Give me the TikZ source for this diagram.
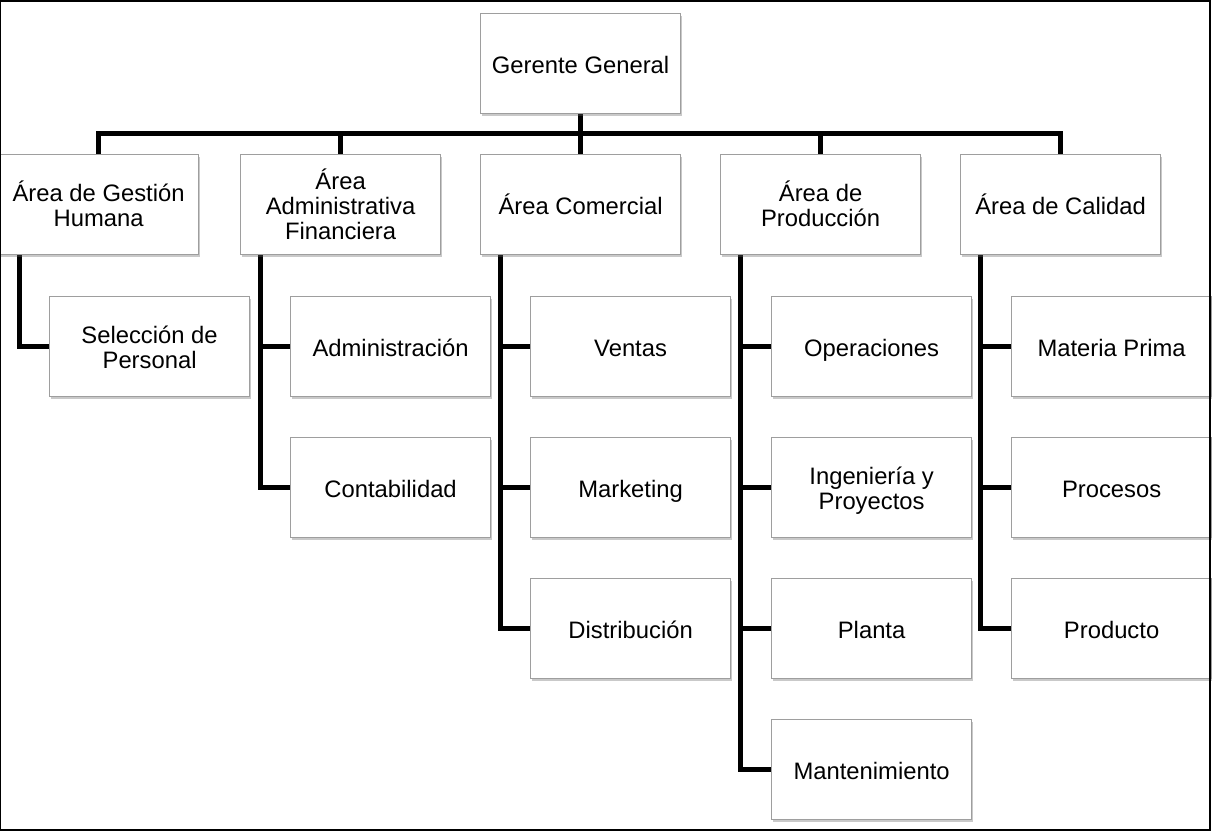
\documentclass[tikz,border=0pt]{standalone}
\usepackage{fontspec}
\setmainfont{Liberation Sans}
\usetikzlibrary{shadows}
\pgfdeclarelayer{bg}
\pgfsetlayers{bg,main}
\newcommand\sm[1]{\rule{0pt}{21pt}\smash{#1}\rule[-2pt]{0pt}{2pt}}
\begin{document}
\begin{tikzpicture}[x=1pt,y=-1pt,
  box/.style={draw=black!38, line width=1.2pt, fill=white, minimum width=200pt, minimum height=100pt,
    inner sep=0pt, anchor=north west, align=center,
    font=\fontsize{23.8}{25}\selectfont,
    drop shadow={shadow xshift=1pt, shadow yshift=-2.5pt, opacity=0.35, fill=black!60}},
  conn/.style={line width=5pt, line cap=butt}]
\useasboundingbox (0,0) rectangle (1212,832);

\coordinate (busL) at (98,134);
\coordinate (busR) at (1060,134);

\node[box] (gg) at (480,13) {\sm{Gerente General}};

\node[box] (a1) at (-2,154) {\sm{Área de Gestión}\\\sm{Humana}};
\node[box] (a2) at (240,154) {\sm{Área}\\\sm{Administrativa}\\\sm{Financiera}};
\node[box] (a3) at (480,154) {\sm{Área Comercial}};
\node[box] (a4) at (720,154) {\sm{Área de}\\\sm{Producción}};
\node[box] (a5) at (960,154) {\sm{Área de Calidad}};

\node[box] (b11) at (49,296) {\sm{Selección de}\\\sm{Personal}};

\node[box] (b21) at (290,296) {\sm{Administración}};
\node[box] (b22) at (290,437) {\sm{Contabilidad}};

\node[box] (b31) at (530,296) {\sm{Ventas}};
\node[box] (b32) at (530,437) {\sm{Marketing}};
\node[box] (b33) at (530,578) {\sm{Distribución}};

\node[box] (b41) at (771,296) {\sm{Operaciones}};
\node[box] (b42) at (771,437) {\sm{Ingeniería y}\\\sm{Proyectos}};
\node[box] (b43) at (771,578) {\sm{Planta}};
\node[box] (b44) at (771,719) {\sm{Mantenimiento}};

\node[box] (b51) at (1011,296) {\sm{Materia Prima}};
\node[box] (b52) at (1011,437) {\sm{Procesos}};
\node[box] (b53) at (1011,578) {\sm{Producto}};

\begin{pgfonlayer}{bg}
\fill[white] (0,0) rectangle (1212,832);
% top bus
\draw[conn] (gg.south) -- (a3.north);
\draw[conn, line cap=rect] (busL) -- (busR);
\foreach \n in {a1,a2,a4,a5}{
  \draw[conn] (\n.north |- busL) -- (\n.north);
}
% child connectors
\draw[conn, line cap=rect] ([xshift=21pt]a1.south west) |- (b11.west);
\draw[conn] ([xshift=20pt]a2.south west) |- (b22.west);
\draw[conn] ([xshift=20pt]a2.south west |- b21.west) -- (b21.west);
\draw[conn] ([xshift=20pt]a3.south west) |- (b33.west);
\draw[conn] ([xshift=20pt]a3.south west |- b31.west) -- (b31.west);
\draw[conn] ([xshift=20pt]a3.south west |- b32.west) -- (b32.west);
\draw[conn] ([xshift=20pt]a4.south west) |- (b44.west);
\draw[conn] ([xshift=20pt]a4.south west |- b41.west) -- (b41.west);
\draw[conn] ([xshift=20pt]a4.south west |- b42.west) -- (b42.west);
\draw[conn] ([xshift=20pt]a4.south west |- b43.west) -- (b43.west);
\draw[conn] ([xshift=20pt]a5.south west) |- (b53.west);
\draw[conn] ([xshift=20pt]a5.south west |- b51.west) -- (b51.west);
\draw[conn] ([xshift=20pt]a5.south west |- b52.west) -- (b52.west);
\end{pgfonlayer}

% outer frame
\draw[line width=2pt] (0,1) rectangle (1210,830);
\end{tikzpicture}
\end{document}
